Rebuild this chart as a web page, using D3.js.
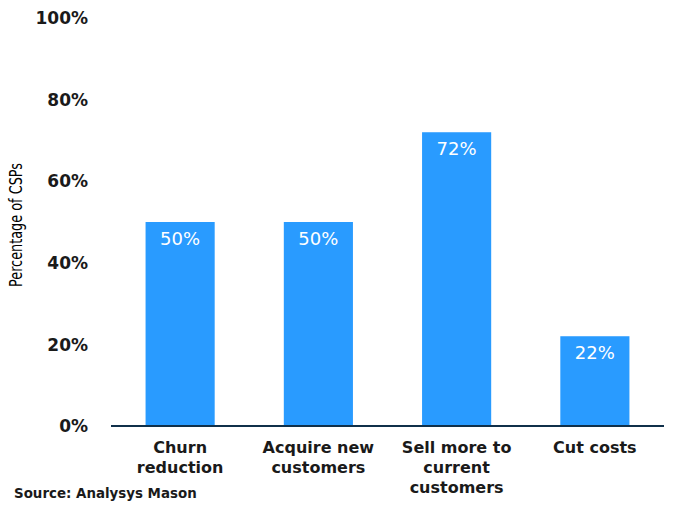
<html>
<head>
<title>CSP priorities</title>
<style>
  body { margin: 0; background: #fff; }
  svg { display: block; }
</style>
</head>
<body>
<svg width="686" height="521"></svg>
<script src="https://d3js.org/d3.v7.min.js"></script>
<script>

var categories = [
  ["Churn", "reduction"],
  ["Acquire new", "customers"],
  ["Sell more to", "current", "customers"],
  ["Cut costs"]
];
var values = [50, 50, 72, 22];
var yticks = [0, 20, 40, 60, 80, 100];
var yTitle = "Percentage of CSPs";
var source = "Source: Analysys Mason";

var svg = d3.select("svg");

var x = d3.scaleBand()
  .domain(d3.range(categories.length))
  .range([111, 664])
  .paddingInner(0.5)
  .paddingOuter(0.25);

var y = d3.scaleLinear()
  .domain([0, 100])
  .range([426, 18]);

// y tick labels
svg.selectAll(".ytick")
  .data(yticks)
  .enter()
  .append("text")
  .attr("x", 88)
  .attr("y", function(d) { return y(d); })
  .attr("dy", "0.36em")
  .attr("text-anchor", "end")
  .attr("font-family", "DejaVu Sans")
  .attr("font-weight", "bold")
  .attr("font-size", "17px")
  .attr("fill", "#1a1a1a")
  .text(function(d) { return d + "%"; });

// y title
svg.append("text")
  .attr("transform", "translate(22,225) rotate(-90)")
  .attr("text-anchor", "middle")
  .attr("font-family", "DejaVu Sans Condensed, DejaVu Sans, sans-serif")
  .attr("font-size", "17px")
  .attr("fill", "#000")
  .attr("textLength", 124)
  .attr("lengthAdjust", "spacingAndGlyphs")
  .text(yTitle);

// bars
svg.selectAll(".bar")
  .data(values)
  .enter()
  .append("rect")
  .attr("x", function(d, i) { return x(i); })
  .attr("y", function(d) { return y(d); })
  .attr("width", x.bandwidth())
  .attr("height", function(d) { return y(0) - y(d); })
  .attr("fill", "#299bff");

// value labels
svg.selectAll(".val")
  .data(values)
  .enter()
  .append("text")
  .attr("x", function(d, i) { return x(i) + x.bandwidth() / 2; })
  .attr("y", function(d) { return y(d) + 23; })
  .attr("text-anchor", "middle")
  .attr("font-family", "DejaVu Sans")
  .attr("font-size", "18px")
  .attr("fill", "#fff")
  .text(function(d) { return d + "%"; });

// baseline
svg.append("line")
  .attr("x1", x.range()[0])
  .attr("x2", x.range()[1])
  .attr("y1", y(0))
  .attr("y2", y(0))
  .style("stroke", "#10304a")
  .style("stroke-width", 2);

// category labels
var cat = svg.selectAll(".cat")
  .data(categories)
  .enter()
  .append("text")
  .attr("text-anchor", "middle")
  .attr("font-family", "DejaVu Sans")
  .attr("font-weight", "bold")
  .attr("font-size", "16px")
  .attr("fill", "#1a1a1a");

cat.selectAll("tspan")
  .data(function(d, i) { return d.map(function(s) { return { s: s, i: i }; }); })
  .enter()
  .append("tspan")
  .attr("x", function(d) { return x(d.i) + x.bandwidth() / 2; })
  .attr("y", function(d, j) { return 453 + j * 20; })
  .text(function(d) { return d.s; });

// source
svg.append("text")
  .attr("x", 14)
  .attr("y", 498)
  .attr("font-family", "DejaVu Sans")
  .attr("font-weight", "bold")
  .attr("font-size", "13.4px")
  .attr("fill", "#1a1a1a")
  .text(source);

</script>
</body>
</html>
